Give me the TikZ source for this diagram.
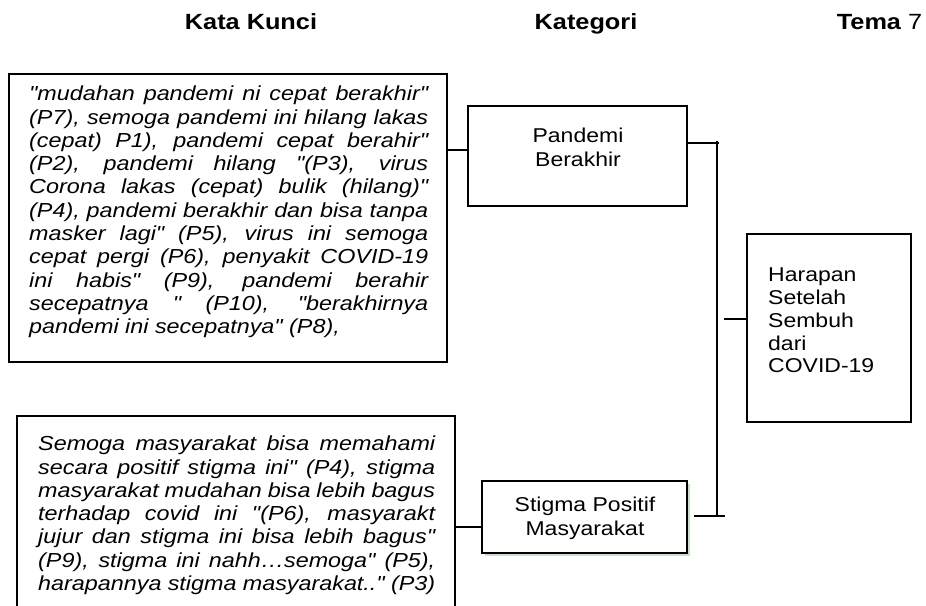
\documentclass[tikz,border=0pt]{standalone}
\usepackage{fontspec}
\setmainfont{Liberation Sans}[FakeStretch=1.15, Ligatures=TeXOff]
\usetikzlibrary{shadows}

% one justified line of a quotation block
\newcommand{\jline}[1]{\makebox[\linewidth][s]{#1}\\}

\begin{document}
\begin{tikzpicture}[x=1pt, y=-1pt,
  box/.style={draw, fill=white, line width=2.6pt, inner sep=0pt, outer sep=0pt, anchor=north west},
  wire/.style={line width=2.4pt},
  head/.style={anchor=base, inner sep=0pt, font=\fontsize{22}{26}\selectfont\bfseries},
  quote/.style={anchor=base west, inner sep=0pt, font=\fontsize{20.3}{23.3}\selectfont\itshape},
  cat/.style={anchor=base, inner sep=0pt},
  theme/.style={anchor=base west, inner sep=0pt, font=\fontsize{20}{22.8}\selectfont}
]
\useasboundingbox (0,0) rectangle (926,605);
\clip (0,0) rectangle (926,605);

% column headings
\node[head] (hKata) at (251,29) {Kata Kunci};
\node[head] (hKat)  at (586,29) {Kategori};
\node[head] (hTema) at (879.5,29) {Tema {\mdseries 7}};

% boxes
\node[box, minimum width=438pt, minimum height=288pt] (kk1) at (9,74) {};
\node[box, minimum width=438pt, minimum height=240pt] (kk2) at (17,416) {};
\node[box, minimum width=219pt, minimum height=100pt] (kat1) at (468,106) {};
\node[box, minimum width=205pt, minimum height=72pt,
      drop shadow={shadow xshift=3pt, shadow yshift=-3pt, fill=black!55!green, opacity=0.22}] (kat2) at (482,481) {};
\node[box, minimum width=164pt, minimum height=188pt] (tema) at (747,234) {};

% keyword quotations
\node[quote] (q1) at (29,100.7) {\parbox[t]{399pt}{%
\jline{"mudahan pandemi ni cepat berakhir"}
\jline{(P7), semoga pandemi ini hilang lakas}
\jline{(cepat) P1), pandemi cepat berahir"}
\jline{(P2), pandemi hilang "(P3), virus}
\jline{Corona lakas (cepat) bulik (hilang)"}
\jline{(P4), pandemi berakhir dan bisa tanpa}
\jline{masker lagi" (P5), virus ini semoga}
\jline{cepat pergi (P6), penyakit COVID-19}
\jline{ini habis" (P9), pandemi berahir}
\jline{secepatnya " (P10), "berakhirnya}
pandemi ini secepatnya" (P8),}};

\node[quote] (q2) at (38,450.7) {\parbox[t]{397pt}{%
\jline{Semoga masyarakat bisa memahami}
\jline{secara positif stigma ini" (P4), stigma}
\jline{masyarakat mudahan bisa lebih bagus}
\jline{terhadap covid ini "(P6), masyarakt}
\jline{jujur dan stigma ini bisa lebih bagus"}
\jline{(P9), stigma ini nahh…semoga" (P5),}
\makebox[\linewidth][s]{harapannya stigma masyarakat.." (P3)}}};

% category and theme labels
\node[cat, font=\fontsize{20}{24.7}\selectfont] (l1) at (578,142)
  {\parbox[t]{200pt}{\centering Pandemi\\Berakhir}};
\node[cat, font=\fontsize{20}{23.3}\selectfont] (l2) at (585,511.7)
  {\parbox[t]{200pt}{\centering Stigma Positif\\Masyarakat}};
\node[theme] (l3) at (768,281.7)
  {\parbox[t]{140pt}{Harapan\\Setelah\\Sembuh\\dari\\COVID-19}};

% connectors
\coordinate (a1) at ([yshift=6pt]kat1.west);
\draw[wire] (kk1.east |- a1) -- (a1);
\coordinate (a2) at ([yshift=-10pt]kat2.west);
\draw[wire] (kk2.east |- a2) -- (a2);

\coordinate (b1) at ([yshift=13pt]kat1.east);
\coordinate (b2) at ([xshift=7pt, yshift=1pt]kat2.east);
\coordinate (spTop) at ([xshift=30pt, yshift=2pt]b1);
\draw[wire] (b1) -- ++(32,0);
\draw[wire] (b2) -- ++(31,0);
\draw[wire] (spTop) -- (spTop |- b2);

\coordinate (c1) at ([yshift=9pt]tema.west);
\draw[wire] (c1) -- ++(-23,0);
\end{tikzpicture}
\end{document}
